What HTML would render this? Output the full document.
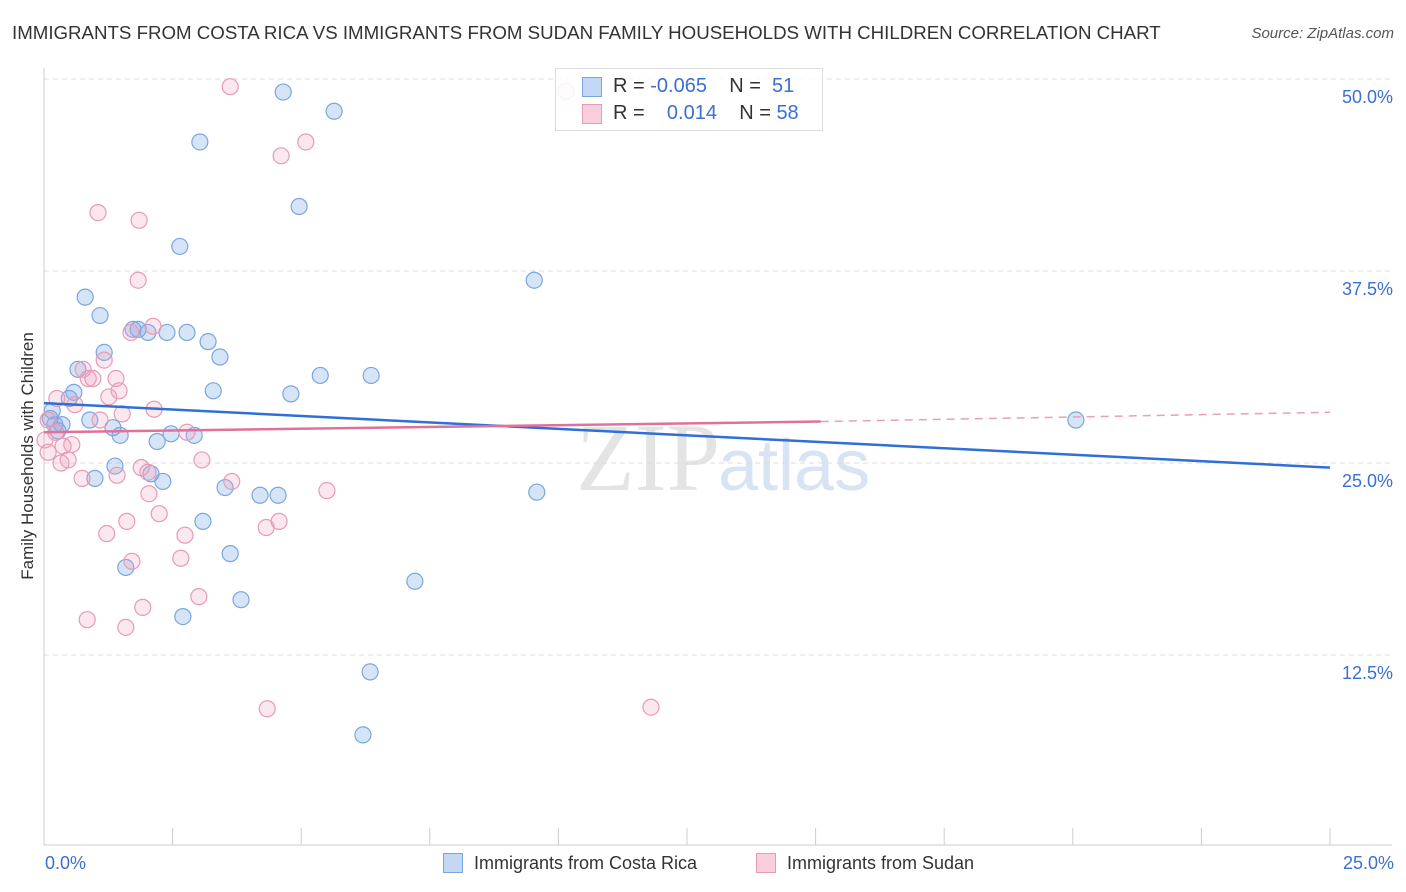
<!DOCTYPE html>
<html><head><meta charset="utf-8"><style>
body{margin:0;background:#fff;font-family:"Liberation Sans",sans-serif;}
#c{position:relative;width:1406px;height:892px;overflow:hidden;}
.t{position:absolute;white-space:nowrap;}
</style></head><body>
<div id="c">
<div class="t" style="left:12px;top:22px;font-size:18.7px;color:#333;">IMMIGRANTS FROM COSTA RICA VS IMMIGRANTS FROM SUDAN FAMILY HOUSEHOLDS WITH CHILDREN CORRELATION CHART</div>
<div class="t" style="right:12px;top:25px;font-size:15px;color:#555;font-style:italic;">Source: ZipAtlas.com</div>
<svg id="s" width="1406" height="892" style="position:absolute;left:0;top:0">
<text x="720" y="490" text-anchor="end" font-family="Liberation Serif" font-size="96" fill="#e4e4e4">ZIP</text>
<text x="718" y="490" font-family="Liberation Sans" font-size="72" fill="#d8e3f3">atlas</text>
</svg>
<div class="t" style="left:28px;top:456px;font-size:17px;color:#333;transform:translate(-50%,-50%) rotate(-90deg);">Family Households with Children</div>
<div class="t" style="left:45px;top:853px;font-size:18px;color:#3b6fd4;">0.0%</div>
<div class="t" style="right:12px;top:853px;font-size:18px;color:#3b6fd4;">25.0%</div>
<div style="position:absolute;left:555px;top:68px;width:266px;height:61px;border:1px solid #ddd;background:rgba(255,255,255,0.85);">
<div style="position:absolute;left:26px;top:8px;width:18px;height:18px;background:#c4d8f6;border:1px solid #7aa6e0;"></div>
<div class="t" style="left:57px;top:6px;font-size:20px;color:#333;">R = <span style="color:#3b6fd4">-0.065</span> &nbsp;&nbsp; N = &nbsp;<span style="color:#3b6fd4">51</span></div>
<div style="position:absolute;left:26px;top:35px;width:18px;height:18px;background:#f9cfdd;border:1px solid #e89ab5;"></div>
<div class="t" style="left:57px;top:33px;font-size:20px;color:#333;">R = &nbsp;&nbsp;&nbsp;<span style="color:#3b6fd4">0.014</span> &nbsp;&nbsp; N = <span style="color:#3b6fd4">58</span></div>
</div>
<div style="position:absolute;left:443px;top:853px;width:18px;height:18px;background:#c4d8f6;border:1px solid #7aa6e0;"></div>
<div class="t" style="left:474px;top:853px;font-size:18px;color:#333;">Immigrants from Costa Rica</div>
<div style="position:absolute;left:756px;top:853px;width:18px;height:18px;background:#f9cfdd;border:1px solid #e89ab5;"></div>
<div class="t" style="left:787px;top:853px;font-size:18px;color:#333;">Immigrants from Sudan</div>
</div>
<script>
const blueX=[4.65,5.64,3.03,4.96,2.64,9.53,0.80,1.09,1.73,1.83,2.02,2.39,2.78,3.19,3.42,1.17,0.66,5.37,6.36,0.58,3.29,4.80,0.49,0.16,0.89,0.35,0.21,20.06,1.34,1.48,2.20,2.47,2.92,1.38,2.08,2.31,0.99,3.52,4.20,4.55,9.58,3.09,3.62,1.59,7.21,3.83,2.70,6.34,6.20,0.27,0.12];
const blueY=[49.15,47.9,45.9,41.7,39.1,36.9,35.8,34.6,33.7,33.7,33.5,33.5,33.5,32.9,31.9,32.2,31.1,30.7,30.7,29.6,29.7,29.5,29.2,28.4,27.8,27.5,27.5,27.8,27.3,26.8,26.4,26.9,26.8,24.8,24.3,23.8,24.0,23.4,22.9,22.9,23.1,21.2,19.1,18.2,17.3,16.1,15.0,11.4,7.3,27.1,27.9];
const pinkX=[3.62,10.15,5.09,4.61,1.05,1.85,1.83,2.12,1.69,1.17,0.76,0.86,0.95,1.40,1.46,1.26,0.25,0.60,2.14,1.52,1.09,0.08,0.23,2.78,0.54,0.37,0.08,0.47,0.33,3.07,1.89,2.02,1.42,0.74,3.65,5.50,2.04,2.24,4.57,1.61,4.32,1.22,2.74,2.66,1.71,3.01,1.92,0.84,1.59,4.34,11.80,0.02];
const pinkY=[49.5,49.2,45.9,45.0,41.3,40.8,36.9,33.9,33.5,31.7,31.1,30.5,30.5,30.5,29.7,29.3,29.2,28.8,28.5,28.2,27.8,27.8,27.0,27.0,26.2,26.1,25.7,25.2,25.0,25.2,24.7,24.4,24.2,24.0,23.8,23.2,23.0,21.7,21.2,21.2,20.8,20.4,20.3,18.8,18.6,16.3,15.6,14.8,14.3,9.0,9.1,26.5];
const yTicks=[12.5,25,37.5,50];
const yTickLabels=["12.5%","25.0%","37.5%","50.0%"];
const xTicks=[0,2.5,5,7.5,10,12.5,15,17.5,20,22.5,25];
const blueTrend=[28.9,24.7];
const pinkTrend=[27.0,27.7,28.3];
const pinkSolidEnd=15.1;
const NS="http://www.w3.org/2000/svg";
const svg=document.getElementById('s');
const X0=44,X1=1330,Y0=847,PX=768/50;
function sx(v){return X0+(v/25)*(X1-X0);}
function sy(v){return Y0-v*PX;}
function mk(tag,attrs){const e=document.createElementNS(NS,tag);for(const k in attrs)e.setAttribute(k,attrs[k]);svg.appendChild(e);return e;}
yTicks.forEach((t,i)=>{
 const g=mk('line',{x1:X0,x2:1392,y1:sy(t),y2:sy(t),stroke:'#ddd','stroke-dasharray':'5,4'});
 
 
 const l=mk('text',{x:1393,y:sy(t)+24,'text-anchor':'end','font-size':18,fill:'#3b6fd4','font-family':'Liberation Sans'});
 l.textContent=yTickLabels[i];
 
 
});
const ax=mk('line',{x1:X0,x2:1392,y1:845,y2:845,stroke:'#ccc'});


const ay=mk('line',{x1:X0,x2:X0,y1:68,y2:845,stroke:'#ccc'});


xTicks.forEach(t=>{
 const k=mk('line',{x1:sx(t),x2:sx(t),y1:828,y2:845,stroke:'#ccc'});
 
 
});
blueX.forEach((x,i)=>{
 const c=mk('circle',{cx:sx(x),cy:sy(blueY[i]),r:8,fill:'rgba(120,165,230,0.3)',stroke:'#7aa6e0','stroke-width':1.2});
 
 
});
pinkX.forEach((x,i)=>{
 const c=mk('circle',{cx:sx(x),cy:sy(pinkY[i]),r:8,fill:'rgba(240,160,190,0.25)',stroke:'#e89ab5','stroke-width':1.2});
 
 
});
const bl=mk('line',{x1:sx(0),y1:sy(blueTrend[0]),x2:sx(25),y2:sy(blueTrend[1]),stroke:'#2f6fd6','stroke-width':2.5});


const pl=mk('line',{x1:sx(0),y1:sy(pinkTrend[0]),x2:sx(pinkSolidEnd),y2:sy(pinkTrend[1]),stroke:'#e0719a','stroke-width':2.5});


const pd=mk('line',{x1:sx(pinkSolidEnd),y1:sy(pinkTrend[1]),x2:sx(25),y2:sy(pinkTrend[2]),stroke:'#e8a0b8','stroke-width':1.5,'stroke-dasharray':'8,6'});


</script>
</body></html>
